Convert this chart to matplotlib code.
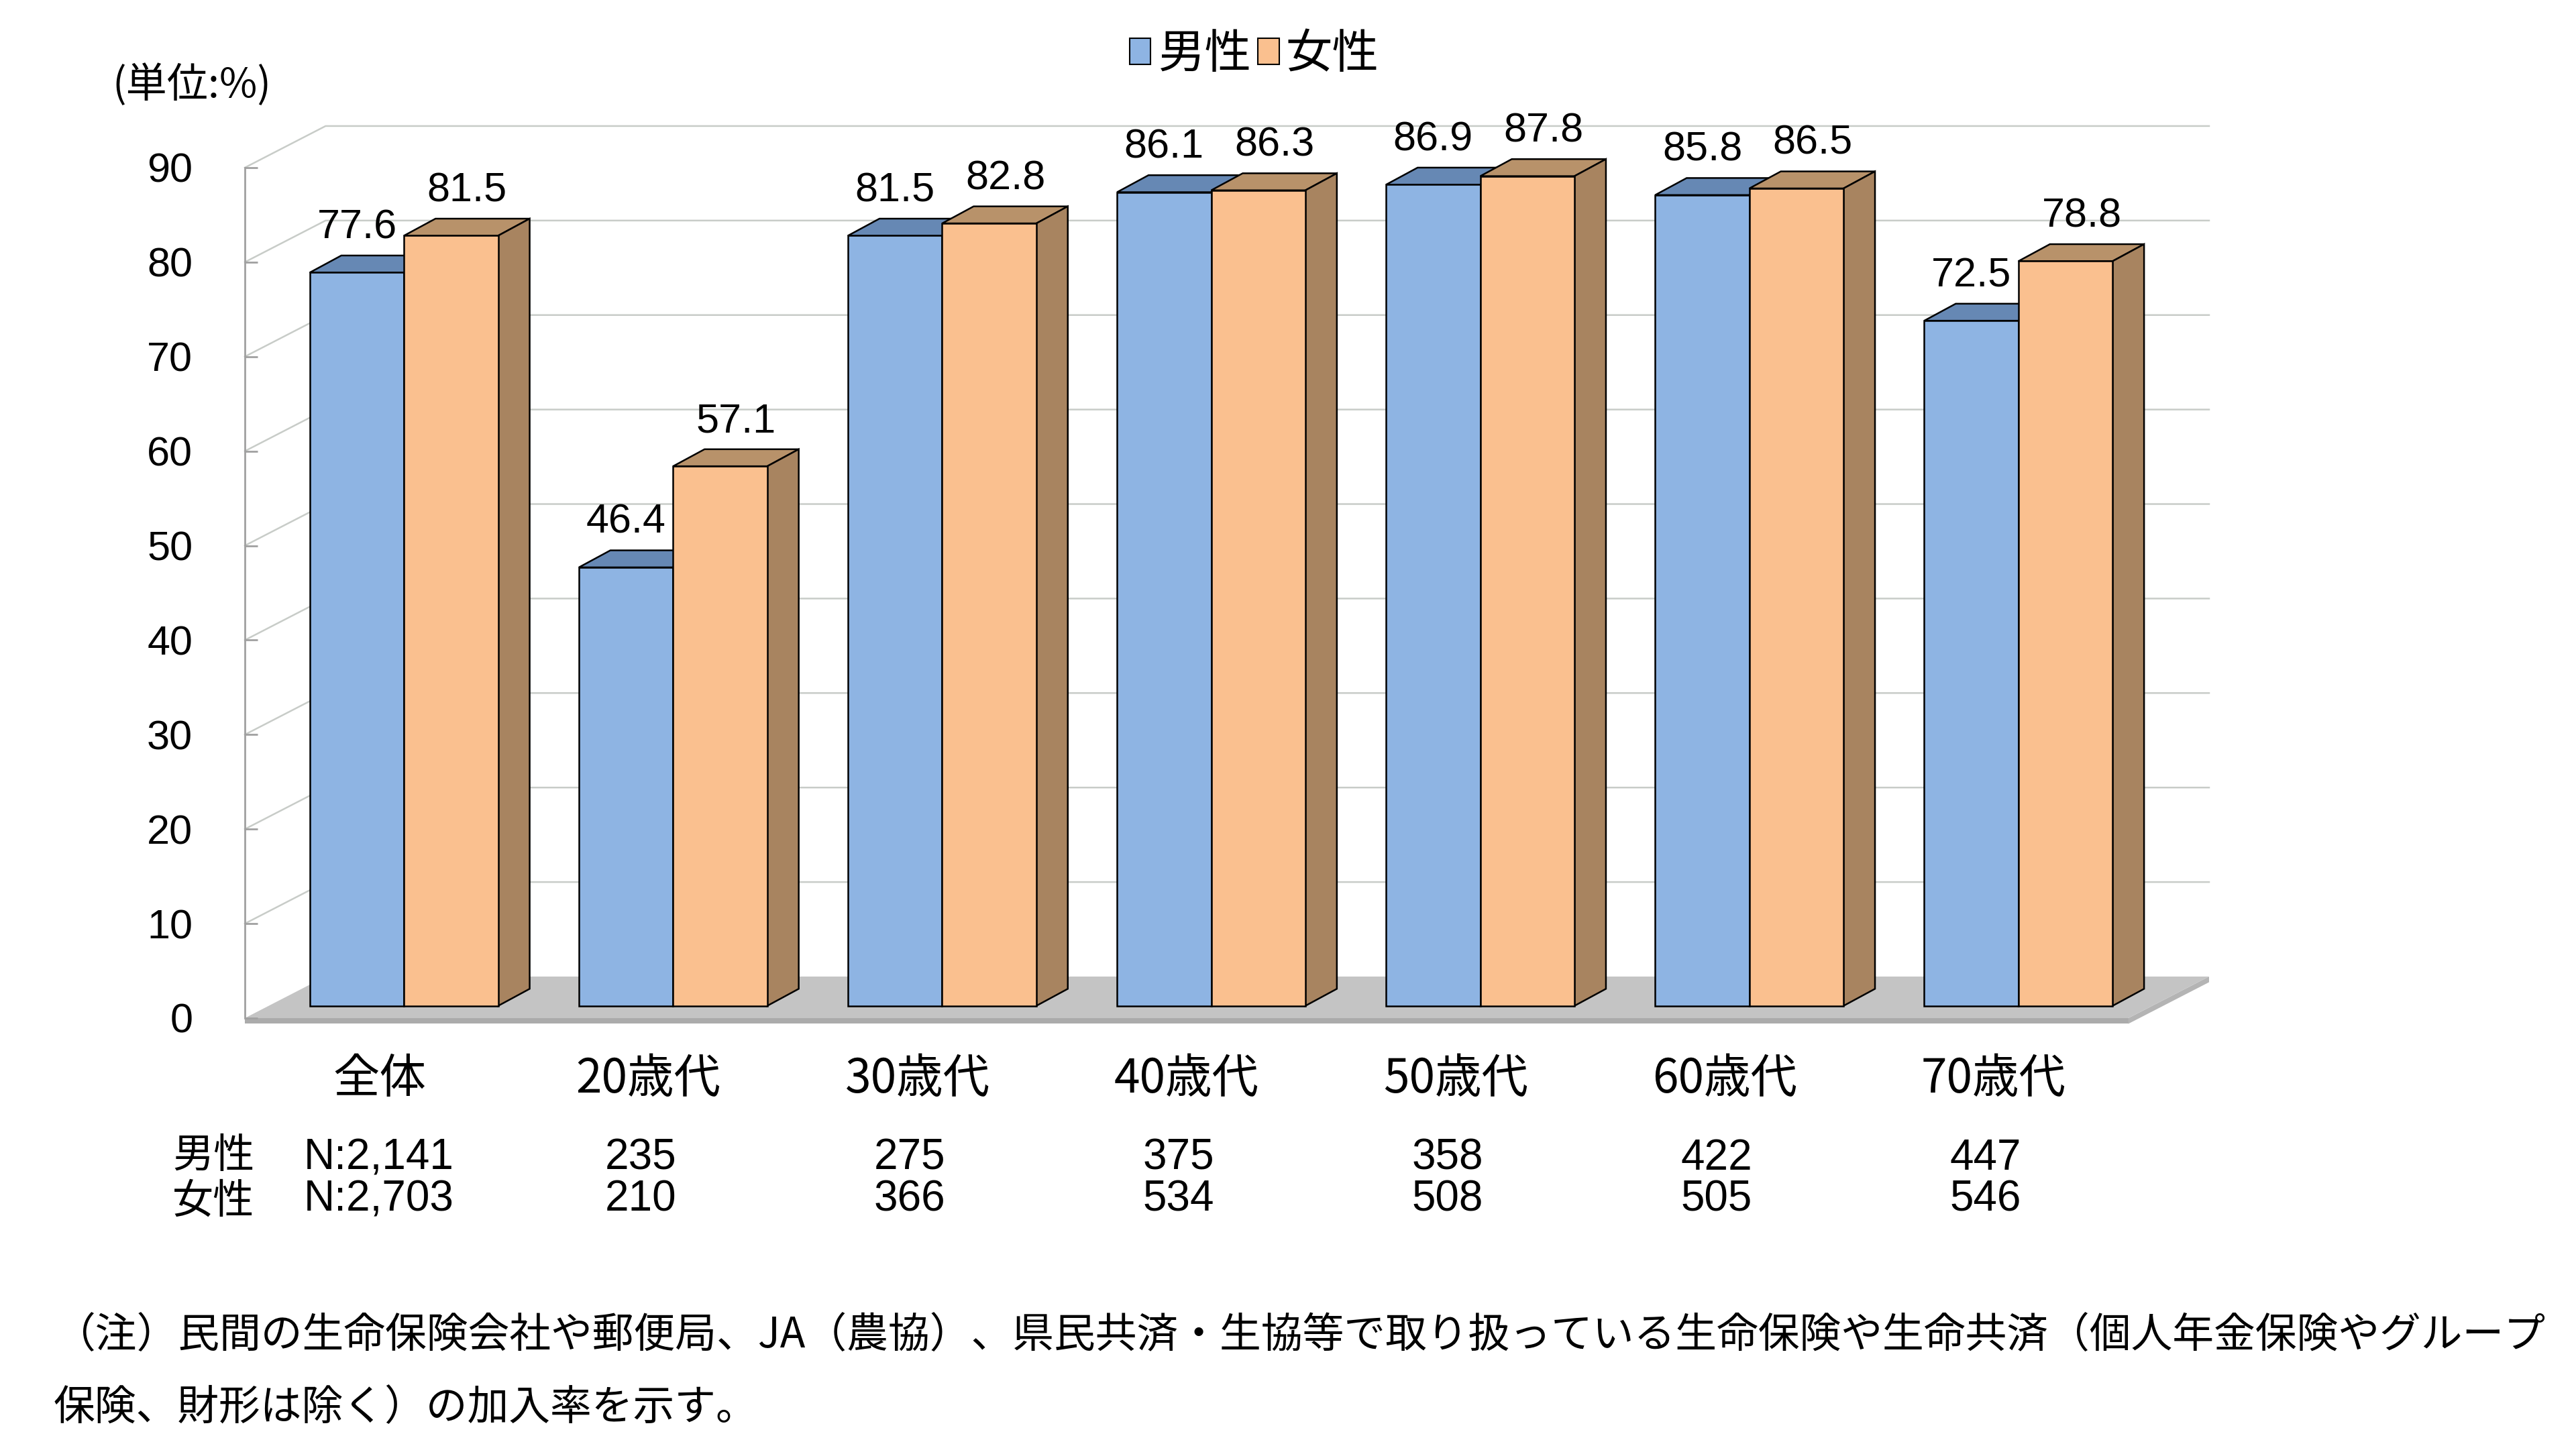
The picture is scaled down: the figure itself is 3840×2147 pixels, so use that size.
import matplotlib
matplotlib.use('Agg')
import matplotlib.pyplot as plt
from matplotlib.patches import Polygon, Patch

plt.rcParams['font.family'] = ['Noto Sans CJK JP', 'DejaVu Sans']
NUM_FONT = ['Liberation Sans Narrow', 'Liberation Sans', 'DejaVu Sans']

# data
categories = ['全体', '20歳代', '30歳代', '40歳代', '50歳代', '60歳代', '70歳代']
male = [77.6, 46.4, 81.5, 86.1, 86.9, 85.8, 72.5]
female = [81.5, 57.1, 82.8, 86.3, 87.8, 86.5, 78.8]
n_male = ['N:2,141', '235', '275', '375', '358', '422', '447']
n_female = ['N:2,703', '210', '366', '534', '508', '505', '546']
yticks = [0, 10, 20, 30, 40, 50, 60, 70, 80, 90]
note1 = '（注）民間の生命保険会社や郵便局、JA（農協）、県民共済・生協等で取り扱っている生命保険や生命共済（個人年金保険やグループ'
note2 = '保険、財形は除く）の加入率を示す。'

# colours
blue_front, blue_top, blue_side = '#8EB4E3', '#6688B4', '#5F7EA8'
orange_front, orange_top, orange_side = '#FAC08F', '#B8926A', '#A88460'
grid_c = '#C8CCC8'

# pseudo 3d depth (data units)
wall_dx, wall_dy = 0.30, 4.4
bar_dx, bar_dy = 0.117, 1.8
off_x, off_y = (wall_dx - bar_dx) / 2, (wall_dy - bar_dy) / 2
bar_w = 0.35
n = len(categories)

fig = plt.figure(figsize=(38.4, 21.47), dpi=100)
ax = fig.add_axes([0.09505, 0.29297, 0.7625, 0.6195])
ax.set_xlim(0, n + wall_dx)
ax.set_ylim(0, 90 + wall_dy)

# floor
ax.add_patch(Polygon([(0, 0), (n, 0), (n, -0.6), (0, -0.6)], closed=True,
                     fc='#ABABAB', ec='none', zorder=1, clip_on=False))
ax.add_patch(Polygon([(n, 0), (n + wall_dx, wall_dy), (n + wall_dx, wall_dy - 0.6), (n, -0.6)],
                     closed=True, fc='#B4B4B4', ec='none', zorder=1, clip_on=False))
ax.add_patch(Polygon([(0, 0), (n, 0), (n + wall_dx, wall_dy), (wall_dx, wall_dy)], closed=True,
                     fc='#C4C4C4', ec='none', zorder=1, clip_on=False))

# back wall gridlines
for v in yticks[1:]:
    ax.plot([0, wall_dx, n + wall_dx], [v, v + wall_dy, v + wall_dy], color=grid_c, lw=1.8,
            zorder=0.5, clip_on=False)


def box(x0, val, front, top, side, z):
    t = val + off_y
    ax.bar(x0, val, width=bar_w, bottom=off_y, align='edge', color=front, edgecolor='black',
           linewidth=1.8, zorder=z + 0.2)
    ax.add_patch(Polygon([(x0, t), (x0 + bar_w, t), (x0 + bar_w + bar_dx, t + bar_dy),
                          (x0 + bar_dx, t + bar_dy)], closed=True, fc=top, ec='black', lw=1.8,
                         zorder=z, clip_on=False))
    ax.add_patch(Polygon([(x0 + bar_w, off_y), (x0 + bar_w + bar_dx, off_y + bar_dy),
                          (x0 + bar_w + bar_dx, t + bar_dy), (x0 + bar_w, t)], closed=True,
                         fc=side, ec='black', lw=1.8, zorder=z, clip_on=False))


for i in range(n):
    c = i + 0.5 + off_x
    box(c - bar_w, male[i], blue_front, blue_top, blue_side, 2)
    box(c, female[i], orange_front, orange_top, orange_side, 3)
    ax.text(c - bar_w / 2, male[i] + off_y + bar_dy + 0.9, f'{male[i]:.1f}', ha='center',
            va='bottom', fontsize=44, family=NUM_FONT, zorder=5)
    ax.text(c + bar_w / 2 + 0.06, female[i] + off_y + bar_dy + 0.9, f'{female[i]:.1f}',
            ha='center', va='bottom', fontsize=44, family=NUM_FONT, zorder=5)
    ax.text(i + 0.5, -6.5, categories[i], ha='center', va='center', fontsize=50)
    if i == 0:
        ax.text(0.22, -14.8, n_male[i], ha='left', va='center', fontsize=46, family=NUM_FONT)
        ax.text(0.22, -19.2, n_female[i], ha='left', va='center', fontsize=46, family=NUM_FONT)
    else:
        ax.text(i + 0.47, -14.8, n_male[i], ha='center', va='center', fontsize=46, family=NUM_FONT)
        ax.text(i + 0.47, -19.2, n_female[i], ha='center', va='center', fontsize=46, family=NUM_FONT)

ax.text(-0.117, -14.6, '男性', ha='center', va='center', fontsize=44)
ax.text(-0.117, -19.4, '女性', ha='center', va='center', fontsize=44)

# axes styling
for s in ['top', 'right', 'bottom']:
    ax.spines[s].set_visible(False)
ax.spines['left'].set_bounds(0, 90)
ax.spines['left'].set_color('#A0A0A0')
ax.spines['left'].set_linewidth(2)
ax.set_xticks([])
ax.set_yticks(yticks)
ax.set_yticklabels([str(v) for v in yticks])
ax.tick_params(axis='y', direction='in', length=14, width=2, color='#A0A0A0', pad=56,
               labelsize=44)
for lbl in ax.get_yticklabels():
    lbl.set_family(NUM_FONT)
ax.patch.set_visible(False)

fig.text(167 / 3840, 1 - 127 / 2147, '(単位:%)', ha='left', va='center', fontsize=44)

handles = [Patch(facecolor=blue_front, edgecolor='black', lw=1.5, label='男性'),
           Patch(facecolor=orange_front, edgecolor='black', lw=1.5, label='女性')]
fig.legend(handles=handles, loc='center', bbox_to_anchor=(0.487, 0.962), ncol=2, frameon=False,
           fontsize=50, handlelength=0.45, handleheight=0.5, handletextpad=0.15,
           columnspacing=0.15)

fig.text(80 / 3840, 1 - 1991 / 2147, note1, ha='left', va='center', fontsize=44.5)
fig.text(80 / 3840, 1 - 2099 / 2147, note2, ha='left', va='center', fontsize=44.5)

fig.savefig('out.png', dpi=100)
